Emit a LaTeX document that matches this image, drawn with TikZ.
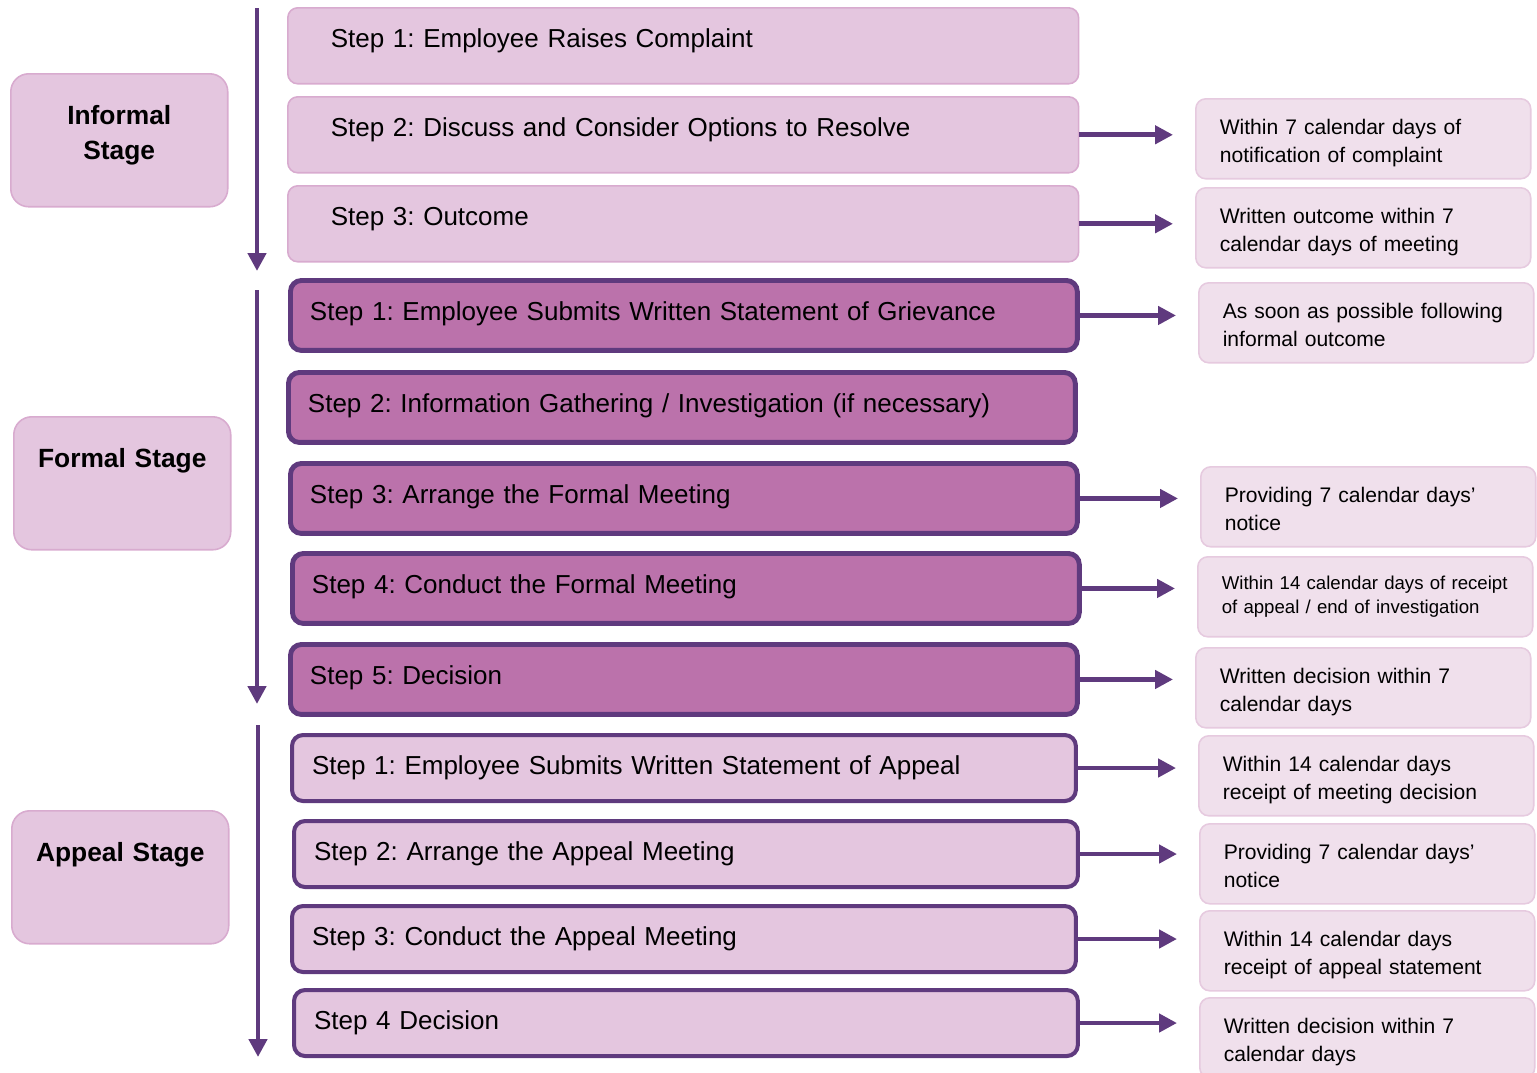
\documentclass[tikz,border=0pt]{standalone}
\usepackage{fontspec}
\setmainfont{Liberation Sans}
\frenchspacing
\usetikzlibrary{arrows.meta}
\definecolor{lilac}{HTML}{E4C6DF}
\definecolor{lilacline}{HTML}{D8ABCF}
\definecolor{mauve}{HTML}{BB72AB}
\definecolor{plum}{HTML}{5F3A7E}
\definecolor{blush}{HTML}{F0E0EC}
\definecolor{blushline}{HTML}{E6CADF}
\tikzset{
  stagebox/.style={anchor=north west, draw=lilacline, fill=lilac, line width=0.9pt,
    rounded corners=0.36cm, inner sep=0pt, text width=4.34cm, align=center,
    text height=1.02cm, text depth=1.64cm, font=\fontsize{15}{20}\selectfont\bfseries},
  istep/.style={anchor=north west, draw=lilacline, fill=lilac, line width=0.9pt,
    rounded corners=0.2cm, inner xsep=0.86cm, inner ysep=0pt, text width=14.1cm,
    align=left, text height=0.8cm, text depth=0.72cm, font=\fontsize{14.8}{18}\selectfont},
  fstep/.style={anchor=north west, draw=plum, fill=mauve, line width=2.8pt,
    rounded corners=0.22cm, inner xsep=0.39cm, inner ysep=0pt, text width=14.96cm,
    align=left, text height=0.8cm, text depth=0.6cm, font=\fontsize{14.8}{18}\selectfont},
  astep/.style={anchor=north west, draw=plum, fill=lilac, line width=2.3pt,
    rounded corners=0.22cm, inner xsep=0.4cm, inner ysep=0pt, text width=14.88cm,
    align=left, text height=0.78cm, text depth=0.54cm, font=\fontsize{14.8}{18}\selectfont},
  note/.style={anchor=north west, draw=blushline, fill=blush, line width=0.9pt,
    rounded corners=0.2cm, inner xsep=0.48cm, inner ysep=0pt, text width=5.74cm,
    align=left, text height=0.71cm, text depth=0.89cm, font=\fontsize{12}{16}\selectfont},
  smallnote/.style={note, text height=0.65cm, text depth=0.95cm,
    font=\fontsize{10.6}{13.6}\selectfont},
  flow/.style={draw=plum, line width=2.8pt, -{Triangle[length=0.36cm, width=0.36cm]}},
  hflow/.style={flow, shorten >=0.44cm}
}
\begin{document}
\begin{tikzpicture}[x=0.02cm, y=-0.02cm]
    \useasboundingbox (0,0) rectangle (1537,1072);
\node[stagebox] (si) at (10,73) {Informal\\Stage};
\node[stagebox] (sf) at (13,416) {Formal Stage};
\node[stagebox] (sa) at (11,810) {Appeal Stage};
\node[istep] (i1) at (287,7) {Step 1: Employee Raises Complaint};
\node[istep] (i2) at (287,96) {Step 2: Discuss and Consider Options to Resolve};
\node[istep] (i3) at (287,185) {Step 3: Outcome};
\node[fstep] (f1) at (288,278) {Step 1: Employee Submits Written Statement of Grievance};
\node[fstep] (f2) at (286,370) {Step 2: Information Gathering / Investigation (if necessary)};
\node[fstep] (f3) at (288,461) {Step 3: Arrange the Formal Meeting};
\node[fstep] (f4) at (290,551) {Step 4: Conduct the Formal Meeting};
\node[fstep] (f5) at (288,642) {Step 5: Decision};
\node[astep] (a1) at (290,733) {Step 1: Employee Submits Written Statement of Appeal};
\node[astep] (a2) at (292,819) {Step 2: Arrange the Appeal Meeting};
\node[astep] (a3) at (290,904) {Step 3: Conduct the Appeal Meeting};
\node[astep] (a4) at (292,988) {Step 4 Decision};
\node[note] (ri2) at (1195,98) {Within 7 calendar days of\\notification of complaint};
\node[note] (ri3) at (1195,187) {Written outcome within 7\\calendar days of meeting};
\node[note] (rf1) at (1198,282) {As soon as possible following\\informal outcome};
\node[note] (rf3) at (1200,466) {Providing 7 calendar days’\\notice};
\node[smallnote] (rf4) at (1197,556) {Within 14 calendar days of receipt\\of appeal / end of investigation};
\node[note] (rf5) at (1195,647) {Written decision within 7\\calendar days};
\node[note] (ra1) at (1198,735) {Within 14 calendar days\\receipt of meeting decision};
\node[note] (ra2) at (1199,823) {Providing 7 calendar days’\\notice};
\node[note] (ra3) at (1199,910) {Within 14 calendar days\\receipt of appeal statement};
\node[note] (ra4) at (1199,997) {Written decision within 7\\calendar days};
\coordinate (itop) at (257,8);   \coordinate (ibot) at (257,271);
\coordinate (ftop) at (257,290); \coordinate (fbot) at (257,704);
\coordinate (atop) at (258,725); \coordinate (abot) at (258,1057);
\draw[flow] (itop) -- (ibot);
\draw[flow] (ftop) -- (fbot);
\draw[flow] (atop) -- (abot);
\foreach \s/\n in {i2/ri2, i3/ri3, f1/rf1, f3/rf3, f4/rf4, f5/rf5, a1/ra1, a2/ra2, a3/ra3, a4/ra4}
  \draw[hflow] (\s.east) -- (\s.east -| \n.west);
  \end{tikzpicture}
\end{document}
